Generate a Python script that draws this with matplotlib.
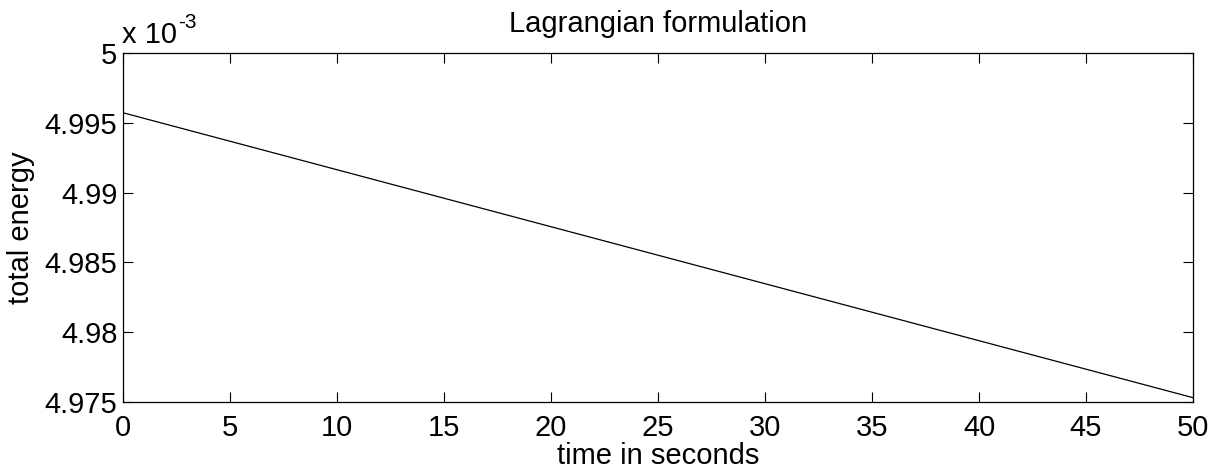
import numpy as np
from matplotlib import pyplot as plt

plt.rcParams['font.family'] = ['Liberation Sans', 'DejaVu Sans']

# data
time = [0, 50]
energy = [4.99572e-3, 4.97531e-3]
xticks = [0, 5, 10, 15, 20, 25, 30, 35, 40, 45, 50]
yticks = [4.975, 4.98, 4.985, 4.99, 4.995, 5.0]
scale = 1e-3

fig = plt.figure(figsize=(12.15, 4.74), dpi=100)
ax = fig.add_axes([123/1215, 1-402/474, (1193-123)/1215, (402-53)/474])

ax.plot(time, np.array(energy)/scale, color='black', lw=0.9)

ax.set_xlim(0, 50)
ax.set_ylim(4.975, 5.0)
ax.set_xticks(xticks)
ax.set_yticks(yticks)
ax.set_yticklabels(['%g' % v for v in yticks])
ax.tick_params(direction='in', length=7, width=0.8, labelsize=21,
               top=True, right=True)
ax.tick_params(axis='x', pad=9)
ax.tick_params(axis='y', pad=4)
for s in ax.spines.values():
    s.set_linewidth(0.9)

ax.set_title('Lagrangian formulation', fontsize=21, pad=15)
ax.set_xlabel('time in seconds', fontsize=21, labelpad=0)
ax.set_ylabel('total energy', fontsize=21, labelpad=7)

# exponent label, matlab style
fig.text(122/1215, 1-43/474, 'x 10', fontsize=21, ha='left', va='baseline')
fig.text(178/1215, 1-28/474, '-3', fontsize=15, ha='left', va='baseline')

fig.savefig('out.png', dpi=100)
